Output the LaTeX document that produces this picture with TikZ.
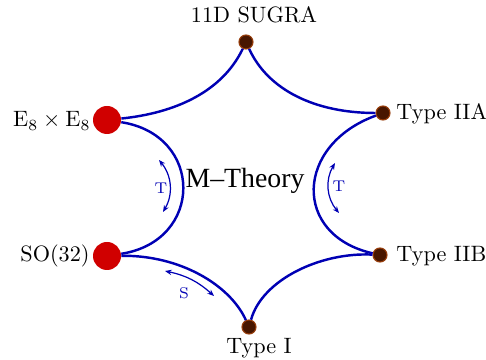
\documentclass[tikz,border=0pt]{standalone}
\usepackage{fontspec}
\newfontfamily\timesfam{Liberation Serif}
\usetikzlibrary{arrows.meta}
\definecolor{linecol}{RGB}{0,0,180}
\definecolor{dotfill}{RGB}{72,22,0}
\definecolor{dotedge}{RGB}{150,60,10}
\definecolor{redcol}{RGB}{208,0,0}
\begin{document}
\begin{tikzpicture}[x=0.45pt,y=-0.45pt,
  sdot/.style={circle,fill=dotfill,draw=dotedge,line width=0.5pt,minimum size=6.3pt,inner sep=0pt},
  bdot/.style={circle,fill=redcol,minimum size=12.6pt,inner sep=0pt},
  lbl/.style={inner sep=0pt,font=\normalsize},
  band/.style={draw=linecol,line width=1.1pt},
  dual/.style={draw=linecol,line width=0.55pt,{Stealth[length=3pt,width=2.4pt]}-{Stealth[length=3pt,width=2.4pt]}},
  dlbl/.style={inner sep=0pt,text=linecol,font=\scriptsize}]
\useasboundingbox (0,0) rectangle (486,360);
\node[sdot] (sugra) at (246,42) {};
\node[sdot] (iia) at (383,113) {};
\node[sdot] (iib) at (380,255) {};
\node[sdot] (ti) at (249,327) {};
\node[bdot] (e8) at (107,120) {};
\node[bdot] (so) at (107,256) {};
\draw[band] (sugra) .. controls (268,90) and (315,113) .. (iia);
\draw[band] (sugra) .. controls (222,92) and (175,113) .. (e8);
\draw[band] (e8) .. controls (204,135) and (204,241) .. (so);
\draw[band] (iia) .. controls (295,145) and (292,235) .. (iib);
\draw[band] (iib) .. controls (320,252) and (262,280) .. (ti);
\draw[band] (so) .. controls (180,255) and (230,285) .. (ti);
\node[lbl,anchor=base] (lsugra) at (254,23) {11D SUGRA};
\node[lbl,anchor=base west] (liia) at (396,120) {Type IIA};
\node[lbl,anchor=base west] (liib) at (396,262) {Type IIB};
\node[lbl,anchor=base] (lti) at (259,354) {Type I};
\node[lbl,anchor=base east] (le8) at (91,127) {$\mathrm{E}_8\times\mathrm{E}_8$};
\node[lbl,anchor=base east] (lso) at (90,262) {SO(32)};
\node[inner sep=0pt,font=\timesfam\fontsize{12.5}{15}\selectfont,anchor=base] (mth) at (245,188) {M–Theory};
\coordinate (t1a) at (159,160);
\coordinate (t1b) at (163,212);
\coordinate (t2a) at (335,163);
\coordinate (t2b) at (339,213);
\coordinate (sa) at (165,271);
\coordinate (sb) at (214,296);
\draw[dual] (t1a) to[bend left=35] (t1b);
\draw[dual] (t2a) to[bend right=35] (t2b);
\draw[dual] (sa) to[bend left=15] (sb);
\node[dlbl] (tl) at (161,188) {T};
\node[dlbl] (tr) at (339,186) {T};
\node[dlbl] (sl) at (184,293) {S};
\end{tikzpicture}
\end{document}
